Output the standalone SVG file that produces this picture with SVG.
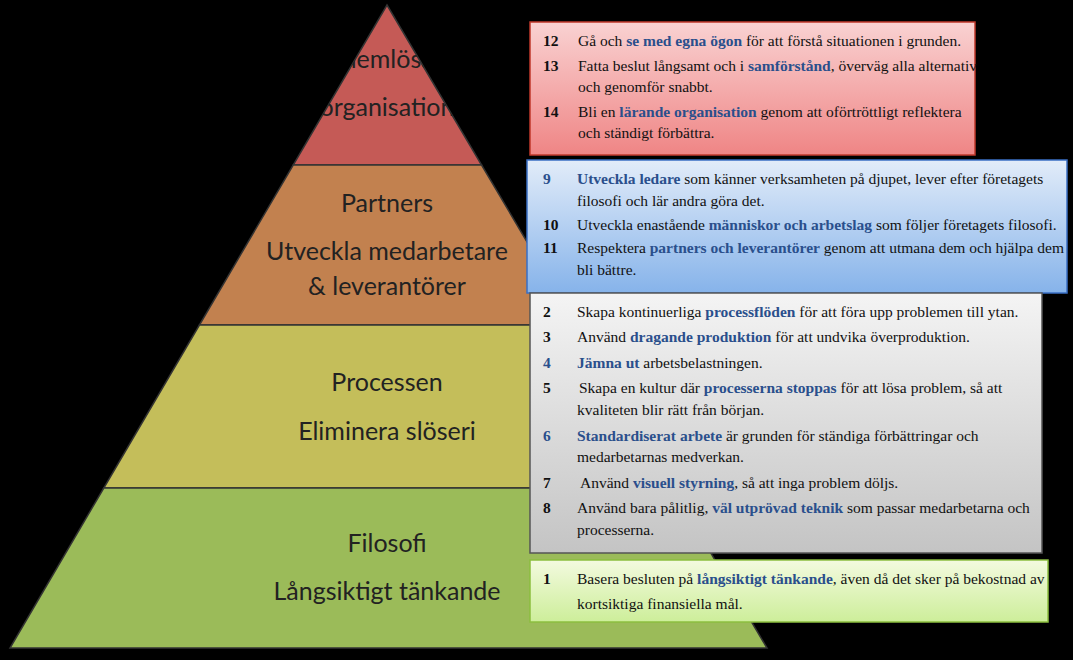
<svg xmlns="http://www.w3.org/2000/svg" width="1073" height="660" viewBox="0 0 1073 660">
<style>
.pt{font-family:Lato,"Open Sans",sans-serif;font-size:25px;fill:#222;text-anchor:middle}
.bt{font-family:"Liberation Serif",serif;font-size:15.5px;fill:#111}
.n{font-weight:bold}
.b{font-weight:bold;fill:#2a4f8c}
.band{stroke:#333;stroke-width:1.5}
</style>
<defs>
<linearGradient id="gr" x1="0" y1="0" x2="0" y2="1"><stop offset="0" stop-color="#f9d2d2"/><stop offset="1" stop-color="#ef8585"/></linearGradient>
<linearGradient id="gb" x1="0" y1="0" x2="0" y2="1"><stop offset="0" stop-color="#e2ecf9"/><stop offset="1" stop-color="#86b3ea"/></linearGradient>
<linearGradient id="gg" x1="0" y1="0" x2="0" y2="1"><stop offset="0" stop-color="#f4f4f4"/><stop offset="1" stop-color="#c4c4c4"/></linearGradient>
<linearGradient id="gn" x1="0" y1="0" x2="0" y2="1"><stop offset="0" stop-color="#f3fadf"/><stop offset="1" stop-color="#cdee9a"/></linearGradient>
<clipPath id="pyr"><polygon points="387,5 767,648 10,648"/></clipPath>
</defs>
<rect width="1073" height="660" fill="#000"/>
<g id="pyramid">
<g id="level4"><polygon class="band" points="387,5 481.6,165 293.2,165" fill="#c55a56"/>
<g clip-path="url(#pyr)"><text class="pt" x="387" y="68">Problemlösande</text><text class="pt" x="387" y="116">organisation</text></g></g>
<g id="level3"><polygon class="band" points="293.2,165 481.6,165 576.1,325 199.4,325" fill="#c2814f"/>
<text class="pt" x="387" y="212">Partners</text><text class="pt" x="387" y="260">Utveckla medarbetare</text><text class="pt" x="387" y="295">&amp; leverantörer</text></g>
<g id="level2"><polygon class="band" points="199.4,325 576.1,325 672.4,488 103.8,488" fill="#c4be5a"/>
<text class="pt" x="387" y="391">Processen</text><text class="pt" x="387" y="440">Eliminera slöseri</text></g>
<g id="level1"><polygon class="band" points="103.8,488 672.4,488 767,648 10,648" fill="#9bbb59"/>
<text class="pt" x="387" y="552">Filosofi</text><text class="pt" x="387" y="600">Långsiktigt tänkande</text></g>
</g>
<g id="box-red"><rect x="530" y="22" width="445" height="133" fill="url(#gr)" stroke="#c0392b" stroke-width="1.5"/>
<text class="bt" y="46"><tspan class="n" x="543">12</tspan><tspan x="578">Gå och </tspan><tspan class="b">se med egna ögon</tspan><tspan> för att förstå situationen i grunden.</tspan></text>
<text class="bt" y="71"><tspan class="n" x="543">13</tspan><tspan x="578">Fatta beslut långsamt och i </tspan><tspan class="b">samförstånd</tspan><tspan>, överväg alla alternativ</tspan></text>
<text class="bt" x="578" y="92">och genomför snabbt.</text>
<text class="bt" y="117"><tspan class="n" x="543">14</tspan><tspan x="578">Bli en </tspan><tspan class="b">lärande organisation</tspan><tspan> genom att oförtröttligt reflektera</tspan></text>
<text class="bt" x="578" y="138">och ständigt förbättra.</text></g>
<g id="box-blue"><rect x="527" y="160" width="540" height="133" fill="url(#gb)" stroke="#3a6fc4" stroke-width="1.5"/>
<text class="bt" y="184"><tspan class="b" x="543">9</tspan><tspan class="b" x="577">Utveckla ledare</tspan><tspan> som känner verksamheten på djupet, lever efter företagets</tspan></text>
<text class="bt" x="577" y="206">filosofi och lär andra göra det.</text>
<text class="bt" y="230"><tspan class="n" x="543">10</tspan><tspan x="577">Utveckla enastående </tspan><tspan class="b">människor och arbetslag</tspan><tspan> som följer företagets filosofi.</tspan></text>
<text class="bt" y="253"><tspan class="n" x="543">11</tspan><tspan x="577">Respektera </tspan><tspan class="b">partners och leverantörer</tspan><tspan> genom att utmana dem och hjälpa dem</tspan></text>
<text class="bt" x="577" y="275">bli bättre.</text></g>
<g id="box-gray"><rect x="530" y="293" width="512" height="260" fill="url(#gg)" stroke="#555" stroke-width="1.5"/>
<text class="bt" y="317"><tspan class="n" x="543">2</tspan><tspan x="577">Skapa kontinuerliga </tspan><tspan class="b">processflöden</tspan><tspan> för att föra upp problemen till ytan.</tspan></text>
<text class="bt" y="342"><tspan class="n" x="543">3</tspan><tspan x="577">Använd </tspan><tspan class="b">dragande produktion</tspan><tspan> för att undvika överproduktion.</tspan></text>
<text class="bt" y="368"><tspan class="b" x="543">4</tspan><tspan class="b" x="577">Jämna ut</tspan><tspan> arbetsbelastningen.</tspan></text>
<text class="bt" y="393"><tspan class="n" x="543">5</tspan><tspan x="579">Skapa en kultur där </tspan><tspan class="b">processerna stoppas</tspan><tspan> för att lösa problem, så att</tspan></text>
<text class="bt" x="577" y="415">kvaliteten blir rätt från början.</text>
<text class="bt" y="441"><tspan class="b" x="543">6</tspan><tspan class="b" x="577">Standardiserat arbete</tspan><tspan> är grunden för ständiga förbättringar och</tspan></text>
<text class="bt" x="577" y="462">medarbetarnas medverkan.</text>
<text class="bt" y="488"><tspan class="n" x="543">7</tspan><tspan x="580">Använd </tspan><tspan class="b">visuell styrning</tspan><tspan>, så att inga problem döljs.</tspan></text>
<text class="bt" y="513"><tspan class="n" x="543">8</tspan><tspan x="577">Använd bara pålitlig, </tspan><tspan class="b">väl utprövad teknik</tspan><tspan> som passar medarbetarna och</tspan></text>
<text class="bt" x="577" y="535">processerna.</text></g>
<g id="box-green"><rect x="530" y="560" width="518" height="62" fill="url(#gn)" stroke="#8cbf3f" stroke-width="1.5"/>
<text class="bt" y="584"><tspan class="n" x="543">1</tspan><tspan x="577">Basera besluten på </tspan><tspan class="b">långsiktigt tänkande</tspan><tspan>, även då det sker på bekostnad av</tspan></text>
<text class="bt" x="577" y="609">kortsiktiga finansiella mål.</text></g>
</svg>
